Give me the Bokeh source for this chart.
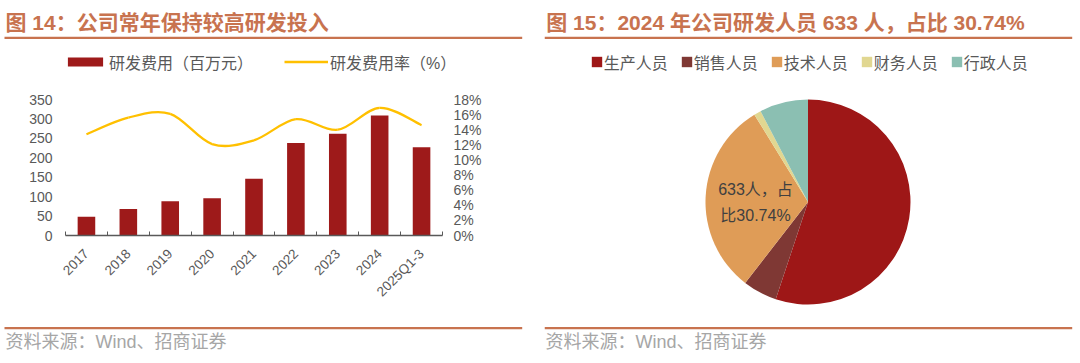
import numpy as np
from math import pi
from bokeh.plotting import figure
from bokeh.models import (Range1d, LinearAxis, FixedTicker, PrintfTickFormatter,
                          ColumnDataSource, Legend, LegendItem)
from bokeh.layouts import row, column
from bokeh.embed import file_html
from bokeh.resources import INLINE
from bokeh.core.properties import value

# ---------------- data ----------------
categories = ["2017", "2018", "2019", "2020", "2021", "2022", "2023", "2024", "2025Q1-3"]
rd_expense = [48, 68, 88, 96, 146, 238, 262, 309, 227]            # 百万元
rd_ratio = [13.4, 15.6, 16.1, 12.1, 12.6, 15.4, 14.0, 16.9, 14.6]  # %
expense_ticks = [0, 50, 100, 150, 200, 250, 300, 350]
ratio_ticks = [0, 2, 4, 6, 8, 10, 12, 14, 16, 18]
series_names = ["研发费用（百万元）", "研发费用率（%）"]

staff_groups = ["生产人员", "销售人员", "技术人员", "财务人员", "行政人员"]
staff_share = [55.1, 5.4, 30.74, 1.1, 7.66]   # %
rd_staff = 633
rd_staff_share = 30.74

title_left = "图 14：公司常年保持较高研发投入"
title_right = "图 15：2024 年公司研发人员 633 人，占比 30.74%"
source_text = "资料来源：Wind、招商证券"

# ---------------- style ----------------
FONT = "Liberation Sans, Noto Sans CJK SC"
ACCENT = "#C8734F"
BAR = "#9E1A1A"
LINE = "#FFC000"
TICK = "#595959"
SRC = "#A6A6A6"
pie_colors = ["#9E1717", "#7F3834", "#DF9C57", "#E1D791", "#8BBFB2"]


def canvas(w, h):
    f = figure(width=w, height=h, x_range=Range1d(0, w), y_range=Range1d(0, h),
               output_backend="svg", toolbar_location=None, min_border=0,
               x_axis_location=None, y_axis_location=None, frame_align=False)
    f.outline_line_color = None
    f.background_fill_color = "white"
    f.grid.grid_line_color = None
    return f


def put_text(f, x, y, txt, size, color, bold=False, align="left"):
    f.text(x=[x], y=[y], text=[txt], text_font=value(FONT), text_font_size=value(size),
           text_font_style="bold" if bold else "normal", text_color=color,
           text_align=align, text_baseline="middle")


def style_legend(lg, x, y, gw, gh, standoff, spacing):
    lg.orientation = "horizontal"
    lg.location = (x, y)
    lg.glyph_width = gw
    lg.glyph_height = gh
    lg.label_standoff = standoff
    lg.spacing = spacing
    lg.label_height = 20
    lg.padding = 0
    lg.margin = 0
    lg.border_line_color = None
    lg.background_fill_alpha = 0
    lg.label_text_font = FONT
    lg.label_text_font_size = "16px"
    lg.label_text_color = TICK


# ================= left panel =================
LW = 544
header_l = canvas(LW, 85)
put_text(header_l, 5, 63.3, title_left, "21px", ACCENT, bold=True)
header_l.line(x=[4, 521.7], y=[47.7, 47.7], line_color=ACCENT, line_width=2.2)
# legend proxies (styled like the chart's series, kept outside the visible area)
sw_bar = header_l.vbar(x=[-50], top=[0], width=1, fill_color=BAR, line_color=None)
sw_line = header_l.line(x=[-60, -50], y=[0, 0], line_color=LINE, line_width=2.3)
legend_l = Legend(items=[LegendItem(label=series_names[0], renderers=[sw_bar]),
                         LegendItem(label=series_names[1], renderers=[sw_line])])
style_legend(legend_l, 63, 11.5, 44, 11, 2, 31)
header_l.add_layout(legend_l)

n = len(categories)
xpos = np.arange(1, n + 1)
src = ColumnDataSource(dict(x=xpos, cat=categories, expense=rd_expense))

chart = figure(width=LW, height=225, x_range=Range1d(0.5, n + 0.5),
               y_range=Range1d(0, expense_ticks[-1]),
               output_backend="svg", toolbar_location=None, frame_align=False,
               min_border_left=65, min_border_right=102, min_border_top=14, min_border_bottom=75)
chart.extra_y_ranges = {"pct": Range1d(0, ratio_ticks[-1])}
chart.outline_line_color = None
chart.xgrid.visible = False
chart.ygrid.visible = False

bars = chart.vbar(x="x", top="expense", width=0.42, source=src,
                  fill_color=BAR, line_color=None)

# smoothed line (Excel-like): cubic Bezier segments through the data points
xs = xpos.astype(float)
ys = np.array(rd_ratio, dtype=float)
xp = np.concatenate([[xs[0]], xs, [xs[-1]]])
yp = np.concatenate([[ys[0]], ys, [ys[-1]]])
seg = dict(
    x0=xs[:-1], y0=ys[:-1], x1=xs[1:], y1=ys[1:],
    cx0=xs[:-1] + (xp[2:-1] - xp[:-3]) / 6.0, cy0=ys[:-1] + (yp[2:-1] - yp[:-3]) / 6.0,
    cx1=xs[1:] - (xp[3:] - xp[1:-2]) / 6.0, cy1=ys[1:] - (yp[3:] - yp[1:-2]) / 6.0,
)
curve = chart.bezier(source=ColumnDataSource(seg), x0="x0", y0="y0", x1="x1", y1="y1",
                     cx0="cx0", cy0="cy0", cx1="cx1", cy1="cy1",
                     line_color=LINE, line_width=2.3, y_range_name="pct")

xa = chart.xaxis[0]
xa.ticker = FixedTicker(ticks=[int(v) for v in xpos],
                        minor_ticks=[float(v) - 0.5 for v in xpos] + [float(xpos[-1]) + 0.5])
xa.major_label_overrides = {int(i): c for i, c in zip(xpos, categories)}
xa.major_label_orientation = pi / 4
xa.major_tick_in = 0
xa.major_tick_out = 0
xa.minor_tick_in = 4
xa.minor_tick_out = 0
xa.minor_tick_line_color = TICK
xa.axis_line_color = TICK
xa.axis_line_width = 1.3
xa.major_label_standoff = 16
xa.major_label_text_font = "Liberation Sans"
xa.major_label_text_font_size = "13.5px"
xa.major_label_text_color = TICK

ya = chart.yaxis[0]
ya.ticker = FixedTicker(ticks=expense_ticks)
ra = LinearAxis(y_range_name="pct", ticker=FixedTicker(ticks=ratio_ticks),
                formatter=PrintfTickFormatter(format="%d%%"))
chart.add_layout(ra, "right")
for ax, so in ((ya, 13), (ra, 11)):
    ax.axis_line_color = None
    ax.major_tick_line_color = None
    ax.minor_tick_line_color = None
    ax.major_tick_in = 0
    ax.major_tick_out = 0
    ax.minor_tick_in = 0
    ax.minor_tick_out = 0
    ax.major_label_standoff = so
    ax.major_label_text_font = "Liberation Sans"
    ax.major_label_text_font_size = "14px"
    ax.major_label_text_color = TICK

footer_l = canvas(LW, 53)
footer_l.line(x=[4, 521.7], y=[35.3, 35.3], line_color=ACCENT, line_width=2.2)
put_text(footer_l, 5, 21.3, source_text, "18px", SRC)

left = column(header_l, chart, footer_l, spacing=0)

# ================= right panel =================
RW, RH = 536, 363
pf = canvas(RW, RH)
put_text(pf, 1.7, 341.3, title_right, "21px", ACCENT, bold=True)
pf.line(x=[0, 527.7], y=[325.7, 325.7], line_color=ACCENT, line_width=2.2)

shares = np.array(staff_share, dtype=float)
cum = np.cumsum(shares) / shares.sum()
start = np.concatenate([[0.0], cum[:-1]])
pie_src = ColumnDataSource(dict(group=staff_groups, color=pie_colors,
                                start_angle=pi / 2 - 2 * pi * cum,
                                end_angle=pi / 2 - 2 * pi * start))
wedges = pf.wedge(x=263.5, y=161.5, radius=102.5, start_angle="start_angle", end_angle="end_angle",
                  fill_color="color", line_color=None, source=pie_src, legend_field="group")
style_legend(pf.legend[0], 45.7, 289.5, 13, 13, 1, 12)

pf.text(x=[211], y=[161], text=[f"{rd_staff}人，占\n比{rd_staff_share:.2f}%"],
        text_font=value(FONT), text_font_size=value("16px"), text_color="#404040",
        text_align="center", text_baseline="middle", text_line_height=1.5)

pf.line(x=[0, 527.7], y=[35.3, 35.3], line_color=ACCENT, line_width=2.2)
put_text(pf, 1, 21.3, source_text, "18px", SRC)

layout = row(left, pf, spacing=0)
open("out.html", "w").write(file_html(layout, INLINE))
